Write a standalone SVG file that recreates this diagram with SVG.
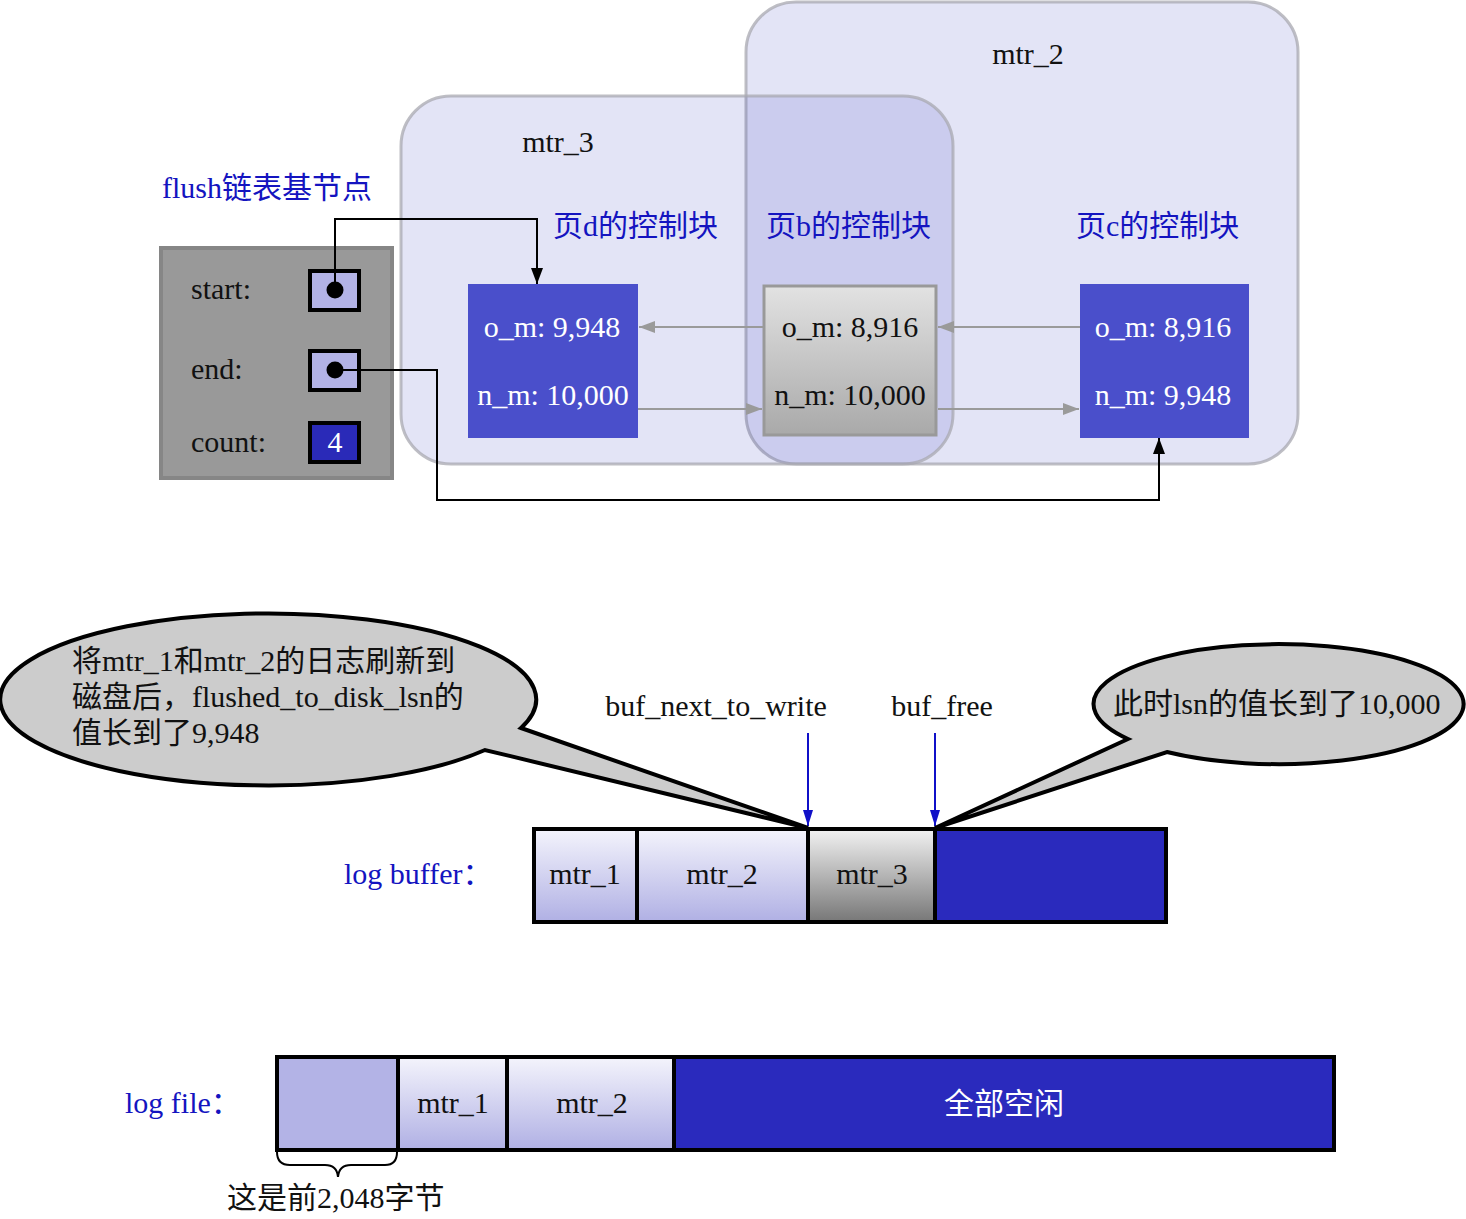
<svg xmlns="http://www.w3.org/2000/svg" width="1466" height="1219" viewBox="0 0 1466 1219">
<style>
text{font-family:'Liberation Serif','Noto Sans CJK SC',serif;font-size:30px;fill:#111}
.blue{fill:#1414c0}
.white{fill:#ffffff}
.mid{text-anchor:middle}
.cluster{fill:#3b42c0;fill-opacity:0.14;stroke:#a8a8b0;stroke-opacity:0.75;stroke-width:3}
.gline{fill:none;stroke:#9a9a9a;stroke-width:2}
.kline{fill:none;stroke:#000;stroke-width:2}
.bline{fill:none;stroke:#1010c8;stroke-width:2}
.cell{stroke:#000;stroke-width:4}
.bubble{fill:#cccccc;stroke:#000;stroke-width:4;stroke-linejoin:miter}
</style>
<defs>
<linearGradient id="lav" x1="0" y1="0" x2="0" y2="1"><stop offset="0" stop-color="#f4f4fc"/><stop offset="1" stop-color="#b0b0e4"/></linearGradient>
<linearGradient id="grey3" x1="0" y1="0" x2="0" y2="1"><stop offset="0" stop-color="#f2f2f2"/><stop offset="1" stop-color="#777777"/></linearGradient>
<linearGradient id="pageb" x1="0" y1="0" x2="0" y2="1"><stop offset="0" stop-color="#e2e2e2"/><stop offset="1" stop-color="#a9a9a9"/></linearGradient>
<marker id="ag" markerUnits="userSpaceOnUse" viewBox="0 0 16 12" refX="16" refY="6" markerWidth="16" markerHeight="12" orient="auto"><path d="M0,0 L16,6 L0,12 z" fill="#9a9a9a"/></marker>
<marker id="ak" markerUnits="userSpaceOnUse" viewBox="0 0 16 12" refX="16" refY="6" markerWidth="16" markerHeight="12" orient="auto"><path d="M0,0 L16,6 L0,12 z" fill="#000"/></marker>
<marker id="ab" markerUnits="userSpaceOnUse" viewBox="0 0 16 10" refX="16" refY="5" markerWidth="16" markerHeight="10" orient="auto"><path d="M0,0 L16,5 L0,10 z" fill="#1010c8"/></marker>
</defs>
<rect width="1466" height="1219" fill="#ffffff"/>

<g id="cluster_mtr_2">
<rect class="cluster" x="746" y="2" width="552" height="462" rx="50"/>
<text class="mid" x="1028" y="64">mtr_2</text>
</g>
<g id="cluster_mtr_3">
<rect class="cluster" x="401" y="96" width="552" height="368" rx="50"/>
<text class="mid" x="558" y="152">mtr_3</text>
</g>

<g id="flush_base">
<text class="blue" x="162" y="198">flush链表基节点</text>
<rect x="161" y="248" width="231" height="230" fill="#999999" stroke="#868686" stroke-width="4"/>
<text x="191" y="299">start:</text>
<text x="191" y="379">end:</text>
<text x="191" y="452">count:</text>
<rect x="310" y="271" width="49" height="39" fill="#b3b3e6" stroke="#000" stroke-width="4"/>
<circle cx="335" cy="290" r="8.5" fill="#000"/>
<rect x="310" y="351" width="49" height="39" fill="#b3b3e6" stroke="#000" stroke-width="4"/>
<circle cx="335" cy="370" r="8.5" fill="#000"/>
<rect x="310" y="423" width="49" height="39" fill="#2a2ab8" stroke="#000" stroke-width="4"/>
<text class="white mid" x="335" y="452">4</text>
</g>

<g id="page_d">
<text class="blue" x="553" y="236">页d的控制块</text>
<rect x="468" y="284" width="170" height="154" fill="#4a4fcb"/>
<text class="white mid" x="552" y="337">o_m: 9,948</text>
<text class="white mid" x="553" y="405">n_m: 10,000</text>
</g>

<g id="page_b">
<text class="blue" x="766" y="236">页b的控制块</text>
<rect x="764" y="286" width="172" height="149" fill="url(#pageb)" stroke="#999999" stroke-width="3"/>
<text class="mid" x="850" y="337">o_m: 8,916</text>
<text class="mid" x="850" y="405">n_m: 10,000</text>
</g>

<g id="page_c">
<text class="blue" x="1076" y="236">页c的控制块</text>
<rect x="1080" y="284" width="169" height="154" fill="#4a4fcb"/>
<text class="white mid" x="1163" y="337">o_m: 8,916</text>
<text class="white mid" x="1163" y="405">n_m: 9,948</text>
</g>

<g id="connectors">
<path class="kline" d="M335,290 V219 H537 V284" marker-end="url(#ak)"/>
<path class="kline" d="M335,370 H437 V500 H1159 V438" marker-end="url(#ak)"/>
<path class="gline" d="M763,327 H639" marker-end="url(#ag)"/>
<path class="gline" d="M1080,327 H938" marker-end="url(#ag)"/>
<path class="gline" d="M638,409 H762" marker-end="url(#ag)"/>
<path class="gline" d="M938,409 H1079" marker-end="url(#ag)"/>
<path class="bline" d="M808,733 V826" marker-end="url(#ab)"/>
<path class="bline" d="M935,733 V826" marker-end="url(#ab)"/>
</g>

<g id="bubble_left">
<path class="bubble" d="M521,728 L808,828 L485,750 A268 86 0 1 1 521,728 Z"/>
<text x="72" y="671">将mtr_1和mtr_2的日志刷新到</text>
<text x="72" y="707">磁盘后，flushed_to_disk_lsn的</text>
<text x="72" y="743">值长到了9,948</text>
</g>

<g id="bubble_right">
<path class="bubble" d="M1128,739 L935,828 L1167,752 A185 60 0 1 0 1128,739 Z"/>
<text x="1113" y="714">此时lsn的值长到了10,000</text>
</g>

<g id="pointer_labels">
<text class="mid" x="716" y="716">buf_next_to_write</text>
<text class="mid" x="942" y="716">buf_free</text>
</g>

<g id="log_buffer">
<text class="blue" x="344" y="884">log buffer：</text>
<rect class="cell" x="534" y="829" width="103" height="93" fill="url(#lav)"/>
<rect class="cell" x="637" y="829" width="171" height="93" fill="url(#lav)"/>
<rect class="cell" x="808" y="829" width="127" height="93" fill="url(#grey3)"/>
<rect class="cell" x="935" y="829" width="231" height="93" fill="#2a2abd"/>
<text class="mid" x="585" y="884">mtr_1</text>
<text class="mid" x="722" y="884">mtr_2</text>
<text class="mid" x="872" y="884">mtr_3</text>
</g>

<g id="log_file">
<text class="blue" x="125" y="1113">log file：</text>
<rect class="cell" x="277" y="1057" width="121" height="93" fill="#b3b3e6"/>
<rect class="cell" x="398" y="1057" width="109" height="93" fill="url(#lav)"/>
<rect class="cell" x="507" y="1057" width="167" height="93" fill="url(#lav)"/>
<rect class="cell" x="674" y="1057" width="660" height="93" fill="#2a2abd"/>
<text class="mid" x="453" y="1113">mtr_1</text>
<text class="mid" x="592" y="1113">mtr_2</text>
<text class="white mid" x="1004" y="1114">全部空闲</text>
</g>

<g id="brace">
<path d="M277,1152 Q277,1165 290,1165 L325,1165 Q337,1165 338,1177 Q339,1165 351,1165 L385,1165 Q397,1165 397,1152" fill="none" stroke="#000" stroke-width="2"/>
<text x="227" y="1208">这是前2,048字节</text>
</g>
</svg>
